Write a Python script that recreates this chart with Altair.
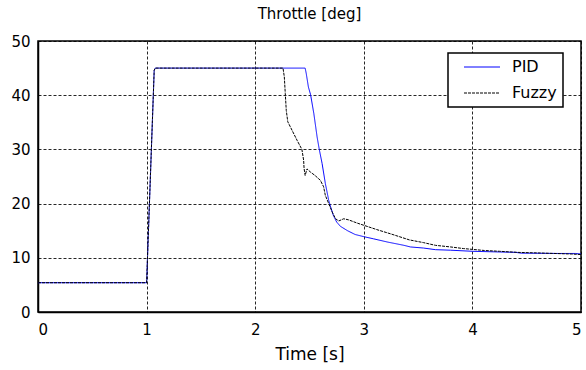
import altair as alt
import pandas as pd

# PID response (time [s], throttle [deg])
t_pid = [0.0, 1.0, 1.07, 1.08, 2.46, 2.47, 2.49, 2.51, 2.54, 2.57, 2.59, 2.616, 2.646, 2.677,
         2.69, 2.72, 2.75, 2.785, 2.85, 2.92, 3.0, 3.09, 3.22, 3.37, 3.43, 3.55, 3.66, 3.8,
         4.0, 4.2, 4.4, 4.45, 4.8, 4.95, 5.0]
v_pid = [5.4, 5.4, 44.6, 45.0, 45.0, 44.0, 41.5, 40.1, 36.6, 32.3, 30.0, 27.4, 23.7, 20.6,
         19.7, 17.8, 16.6, 15.8, 15.0, 14.3, 13.9, 13.5, 12.9, 12.3, 12.0, 11.8, 11.5, 11.4,
         11.2, 11.1, 11.0, 10.85, 10.8, 10.8, 10.7]

# Fuzzy response
t_fuzzy = [0.0, 1.0, 1.07, 1.08, 2.256, 2.268, 2.277, 2.286, 2.30, 2.34, 2.385, 2.43, 2.446,
           2.45, 2.46, 2.477, 2.51, 2.55, 2.60, 2.63, 2.646, 2.677, 2.71, 2.74, 2.77, 2.815,
           2.86, 2.94, 3.0, 3.12, 3.25, 3.42, 3.55, 3.66, 3.8, 3.92, 4.11, 4.25, 4.42, 4.6,
           4.91, 5.0]
v_fuzzy = [5.4, 5.4, 44.6, 45.0, 45.0, 43.4, 40.3, 37.2, 35.1, 33.5, 31.7, 30.0, 28.0,
           26.5, 25.2, 26.4, 25.8, 25.2, 24.3, 23.1, 21.5, 20.0, 18.4, 17.2, 16.8, 17.2,
           17.0, 16.4, 16.0, 15.2, 14.4, 13.3, 12.8, 12.3, 12.0, 11.7, 11.35, 11.2, 11.0, 10.9,
           10.7, 10.6]

series = ["PID", "Fuzzy"]
x_ticks = [0, 1, 2, 3, 4, 5]
y_ticks = [0, 10, 20, 30, 40, 50]

df = pd.concat([
    pd.DataFrame({"t": t_pid, "v": v_pid, "s": "PID", "o": range(len(t_pid))}),
    pd.DataFrame({"t": t_fuzzy, "v": v_fuzzy, "s": "Fuzzy", "o": range(len(t_fuzzy))}),
])

FONT = "DejaVu Sans"

color = alt.Color("s:N", scale=alt.Scale(domain=series, range=["#0000ff", "#000000"]),
                  legend=alt.Legend(title=None))
dash = alt.StrokeDash("s:N", scale=alt.Scale(domain=series, range=[[1, 0], [3, 1]]),
                      legend=alt.Legend(title=None))

x = alt.X("t:Q", title="Time [s]", scale=alt.Scale(domain=[0, 5], nice=False),
          axis=alt.Axis(values=x_ticks, format="d"))
y = alt.Y("v:Q", title=None, scale=alt.Scale(domain=[0, 50], nice=False),
          axis=alt.Axis(values=y_ticks, format="d"))

base = alt.Chart(df)
pid = base.transform_filter(alt.datum.s == "PID").mark_line(strokeWidth=1).encode(
    x=x, y=y, color=color, strokeDash=dash, order="o:Q")
fuzzy = base.transform_filter(alt.datum.s == "Fuzzy").mark_line(strokeWidth=1).encode(
    x=x, y=y, color=color, strokeDash=dash, order="o:Q")

chart = alt.layer(pid, fuzzy).properties(
    width=543, height=271,
    title=alt.TitleParams("Throttle [deg]", font=FONT, fontSize=15, fontWeight="normal",
                          color="black", anchor="middle", offset=12),
    autosize=alt.AutoSizeParams(type="none"),
    padding={"left": 38, "top": 41, "right": 5, "bottom": 58},
).configure_view(
    stroke="black", strokeWidth=1.5
).configure_axis(
    grid=True, gridColor="black", gridDash=[3, 2], gridOpacity=0.85, gridWidth=1,
    domain=True, domainColor="black", domainWidth=1.5,
    ticks=False, labelFont=FONT, labelFontSize=15, labelColor="black",
    titleFont=FONT, titleFontSize=17, titleFontWeight="normal", titleColor="black",
).configure_axisX(
    labelPadding=10, titlePadding=9
).configure_axisY(
    labelPadding=8
).configure_legend(
    orient="none", legendX=410, legendY=12, strokeColor="black", fillColor="white",
    strokeWidth=1.5,
    padding=6, labelFont=FONT, labelFontSize=16, labelColor="black", labelAlign="left",
    symbolType="M-3,0H3", symbolSize=144, symbolStrokeWidth=1,
    symbolOffset=20, labelOffset=22, rowPadding=10,
)

chart.save("out.html", embed_options={"renderer": "svg", "actions": False})
